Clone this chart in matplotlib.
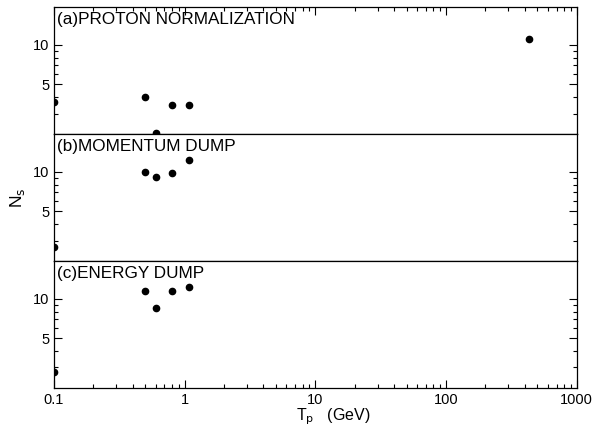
import numpy as np
import matplotlib.pyplot as plt
from matplotlib.ticker import LogLocator, FixedLocator, FixedFormatter, NullFormatter

plt.rcParams['font.family'] = ['Liberation Sans', 'DejaVu Sans']

# Tp (GeV) and Ns for each panel
tp = [0.1, 0.5, 0.6, 0.8, 1.07, 430]
ns_proton = [3.7, 4.0, 2.15, 3.47, 3.47, 11.1]

tp_dump = [0.1, 0.5, 0.6, 0.8, 1.07]
ns_momentum = [2.7, 10.0, 9.15, 9.8, 12.4]
ns_energy = [2.75, 11.5, 8.5, 11.5, 12.3]

panels = [
    ("(a)PROTON NORMALIZATION", tp, ns_proton),
    ("(b)MOMENTUM DUMP", tp_dump, ns_momentum),
    ("(c)ENERGY DUMP", tp_dump, ns_energy),
]

fig, axes = plt.subplots(3, 1, sharex=True, figsize=(5.94, 4.29), dpi=100)
fig.subplots_adjust(left=0.091, right=0.971, top=0.984, bottom=0.096, hspace=0)

for i, (ax, (title, x, y)) in enumerate(zip(axes, panels)):
    ax.plot(x, y, 'o', color='black', markersize=4.5)
    ax.set_xscale('log')
    ax.set_yscale('log')
    ax.set_xlim(0.1, 1000)
    ax.set_ylim(2.1, 19.5)
    ax.yaxis.set_major_locator(FixedLocator([5, 10]))
    ax.yaxis.set_major_formatter(FixedFormatter(['5', '10']))
    ax.yaxis.set_minor_locator(FixedLocator([3, 4, 6, 7, 8, 9]))
    ax.yaxis.set_minor_formatter(NullFormatter())
    # x ticks only on the outer frame
    ax.tick_params(which='both', direction='in', right=True,
                   top=(i == 0), bottom=(i == 2),
                   labelsize=10.5, width=0.8)
    ax.tick_params(which='major', length=6)
    ax.tick_params(which='minor', length=3)
    ax.text(0.005, 0.96, title, transform=ax.transAxes, ha='left', va='top',
            fontsize=12.3)
    for s in ax.spines.values():
        s.set_linewidth(0.9)

axes[-1].xaxis.set_minor_locator(LogLocator(base=10, subs=np.arange(2, 10), numticks=20))
axes[-1].set_xticks([0.1, 1, 10, 100, 1000])
axes[-1].set_xticklabels(['0.1', '1', '10', '100', '1000'])
axes[-1].set_xlabel(r'T$_\mathrm{p}$   (GeV)', fontsize=11.5)
axes[-1].xaxis.set_label_coords(0.534, -0.15)
axes[1].set_ylabel(r'N$_\mathrm{s}$', fontsize=12.5)

plt.savefig('out.png')
